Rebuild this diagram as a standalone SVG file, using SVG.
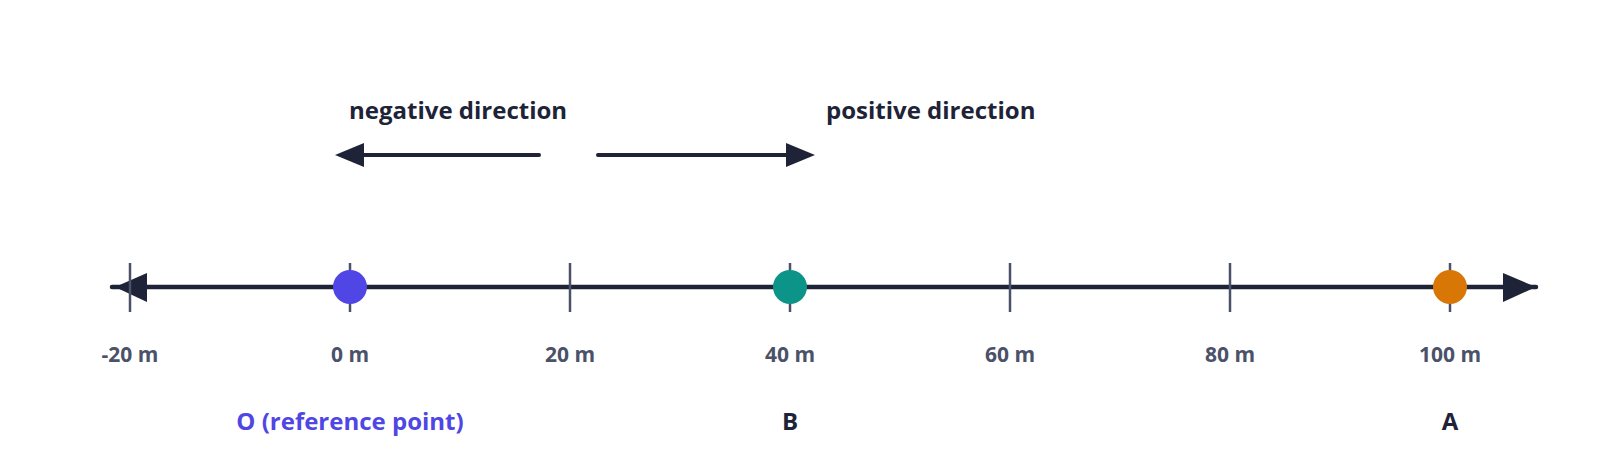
<svg xmlns="http://www.w3.org/2000/svg" width="1600" height="475" viewBox="0 0 1600 475">
<style>
text{font-family:"Open Sans","Liberation Sans",sans-serif;font-weight:700}
.axis{stroke:#1e2337;stroke-width:4.5;stroke-linecap:round;fill:none}
.dir{stroke:#1e2337;stroke-width:4;stroke-linecap:round;fill:none}
.tick{stroke:#4a5168;stroke-width:2.5}
.head{fill:#1e2337}
.num{font-size:21px;fill:#4a5168;text-anchor:middle}
.ttl{font-size:24px;fill:#1e2337}
.pt{font-size:24px;text-anchor:middle}
</style>
<rect width="1600" height="475" fill="#ffffff"/>
<g id="connectors">
<line class="axis" x1="112" y1="287" x2="1536" y2="287"/>
<polygon class="head" points="115,287 147,273 147,302"/>
<polygon class="head" points="1536,287 1503,273 1503,302"/>
<line class="dir" x1="362" y1="155" x2="539" y2="155"/>
<polygon class="head" points="335,155 364,143 364,167"/>
<line class="dir" x1="598" y1="155" x2="788" y2="155"/>
<polygon class="head" points="815,155 786,143 786,167"/>
</g>
<g id="ticks">
<line class="tick" x1="130" y1="263" x2="130" y2="312"/>
<line class="tick" x1="350" y1="263" x2="350" y2="312"/>
<line class="tick" x1="570" y1="263" x2="570" y2="312"/>
<line class="tick" x1="790" y1="263" x2="790" y2="312"/>
<line class="tick" x1="1010" y1="263" x2="1010" y2="312"/>
<line class="tick" x1="1230" y1="263" x2="1230" y2="312"/>
<line class="tick" x1="1450" y1="263" x2="1450" y2="312"/>
</g>
<g id="tick-labels">
<text class="num" x="130" y="362">-20 m</text>
<text class="num" x="350" y="362">0 m</text>
<text class="num" x="570" y="362">20 m</text>
<text class="num" x="790" y="362">40 m</text>
<text class="num" x="1010" y="362">60 m</text>
<text class="num" x="1230" y="362">80 m</text>
<text class="num" x="1450" y="362">100 m</text>
</g>
<g id="negative-direction">
<text class="ttl" x="349" y="119">negative direction</text>
</g>
<g id="positive-direction">
<text class="ttl" x="826" y="119">positive direction</text>
</g>
<g id="point-O">
<circle cx="350" cy="287" r="17" fill="#4f46e5"/>
<text class="pt" x="350" y="430" fill="#4f46e5">O (reference point)</text>
</g>
<g id="point-B">
<circle cx="790" cy="287" r="17" fill="#0d9488"/>
<text class="pt" x="790" y="430" fill="#1e2337">B</text>
</g>
<g id="point-A">
<circle cx="1450" cy="287" r="17" fill="#d97706"/>
<text class="pt" x="1450" y="430" fill="#1e2337">A</text>
</g>
</svg>
